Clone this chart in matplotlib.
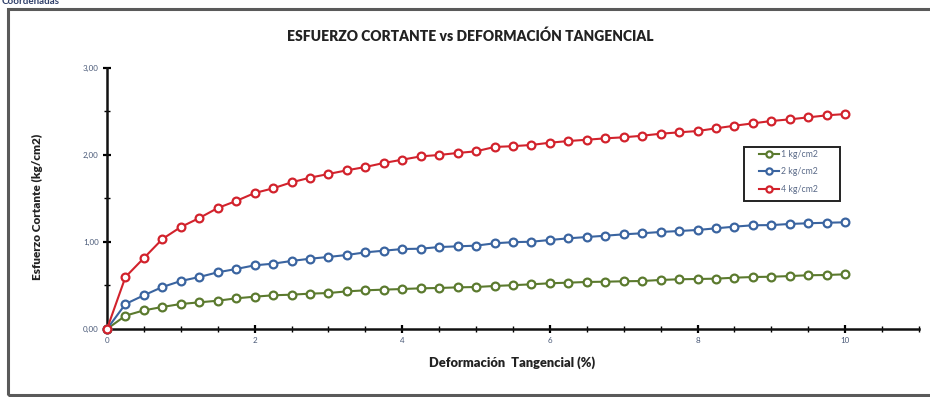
import matplotlib
matplotlib.use("Agg")
import matplotlib.pyplot as plt
from matplotlib.patches import Rectangle
from matplotlib.ticker import MultipleLocator, FuncFormatter

plt.rcParams['font.family'] = ['Lato', 'DejaVu Sans']

# Deformación tangencial (%)
deformacion = [i * 0.25 for i in range(41)]

# Esfuerzo cortante (kg/cm2) para cada presión normal
esf_1 = [0.000, 0.153, 0.214, 0.253, 0.287, 0.306, 0.325, 0.352, 0.371, 0.387,
         0.394, 0.406, 0.413, 0.432, 0.444, 0.452, 0.459, 0.467, 0.471, 0.478,
         0.482, 0.494, 0.503, 0.513, 0.525, 0.532, 0.540, 0.543, 0.548, 0.551,
         0.563, 0.571, 0.574, 0.578, 0.589, 0.597, 0.600, 0.608, 0.617, 0.620,
         0.628]
esf_2 = [0.000, 0.287, 0.387, 0.482, 0.551, 0.597, 0.651, 0.689, 0.731, 0.750,
         0.781, 0.807, 0.827, 0.850, 0.880, 0.899, 0.918, 0.922, 0.941, 0.949,
         0.957, 0.984, 0.997, 1.002, 1.022, 1.041, 1.056, 1.071, 1.087, 1.099,
         1.114, 1.125, 1.137, 1.156, 1.175, 1.191, 1.193, 1.206, 1.214, 1.220,
         1.225]
esf_4 = [0.000, 0.597, 0.815, 1.033, 1.171, 1.274, 1.389, 1.470, 1.561, 1.615,
         1.684, 1.737, 1.780, 1.822, 1.860, 1.906, 1.944, 1.982, 1.998, 2.021,
         2.040, 2.090, 2.099, 2.113, 2.139, 2.158, 2.173, 2.189, 2.201, 2.219,
         2.242, 2.258, 2.273, 2.304, 2.334, 2.361, 2.388, 2.407, 2.430, 2.453,
         2.468]

series_labels = ["1 kg/cm2", "2 kg/cm2", "4 kg/cm2"]
series_colors = ["#5B7A2E", "#3A64A0", "#D2222C"]

W, H = 930, 397
fig = plt.figure(figsize=(W / 100, H / 100), dpi=100)
fig.patch.set_facecolor("white")

# chart area frame (runs past the right edge)
fig.patches.append(Rectangle((8 / W, 2 / H), 1.2, 1 - 11 / H,
                             transform=fig.transFigure, fill=False,
                             edgecolor="#5A5A5A", linewidth=2.2, zorder=0))
fig.text(2 / W, 1 - 1.5 / H, "Coordenadas", fontsize=7, fontweight="bold",
         color="#2F3F6A", ha="left", va="center")

L, R, T, B = 107, 919, 67.7, 329
ax = fig.add_axes([L / W, 1 - B / H, (R - L) / W, (B - T) / H])


def ax_frac(px, py):
    return (px - L) / (R - L), (B - py) / (B - T)


for y, lab, col in zip([esf_1, esf_2, esf_4], series_labels, series_colors):
    ax.plot(deformacion, y, color=col, linewidth=1.5, marker="o",
            markersize=5.6, markerfacecolor="white", markeredgecolor=col,
            markeredgewidth=1.6, label=lab, clip_on=False, zorder=3)

ax.set_xlim(0, 11)
ax.set_ylim(0, 3)
ax.xaxis.set_major_locator(MultipleLocator(2))
ax.xaxis.set_minor_locator(MultipleLocator(0.5))
ax.yaxis.set_major_locator(MultipleLocator(1))
ax.yaxis.set_minor_locator(MultipleLocator(0.5))
ax.yaxis.set_major_formatter(FuncFormatter(lambda v, p: f"{v:.2f}".replace(".", ",")))
ax.xaxis.set_major_formatter(FuncFormatter(lambda v, p: f"{v:.0f}"))

for s in ["top", "right"]:
    ax.spines[s].set_visible(False)
for s in ["left", "bottom"]:
    ax.spines[s].set_linewidth(1.8)
    ax.spines[s].set_color("#111111")

ax.tick_params(axis="both", which="major", direction="inout", length=6,
               width=1.6, labelsize=5.8, labelcolor="#4A5A78", pad=3)
ax.tick_params(axis="both", which="minor", direction="inout", length=5,
               width=1.0)

ax.set_xlabel("Deformación  Tangencial (%)", fontsize=9.3, fontweight="heavy",
              color="#222222")
ax.xaxis.set_label_coords(*ax_frac(512, 363))
ax.xaxis.label.set_va("center")
ax.set_ylabel("Esfuerzo Cortante (kg/cm2)", fontsize=8.5, fontweight="heavy",
              color="#222222")
ax.yaxis.set_label_coords(*ax_frac(37, 207))
ax.yaxis.label.set_va("center")
ax.set_title("ESFUERZO CORTANTE vs DEFORMACIÓN TANGENCIAL", fontsize=10,
             fontweight="heavy", color="#222222", pad=19,
             x=ax_frac(470, 0)[0])

# legend box
x0, y0 = ax_frac(744, 201)
x1, y1 = ax_frac(840, 147)
ax.add_patch(Rectangle((x0, y0), x1 - x0, y1 - y0, transform=ax.transAxes,
                       fill=True, facecolor="white", edgecolor="#222222",
                       linewidth=1.4, zorder=4, clip_on=False))
leg = ax.legend(loc="upper left", bbox_to_anchor=ax_frac(759, 150),
                fontsize=6.3, frameon=False, handlelength=2.3,
                markerscale=0.8, borderpad=0, labelspacing=0.95,
                handletextpad=0.2, borderaxespad=0)
leg.set_zorder(5)
for t in leg.get_texts():
    t.set_color("#5A6A88")

fig.savefig("out.png", dpi=100, facecolor="white")
